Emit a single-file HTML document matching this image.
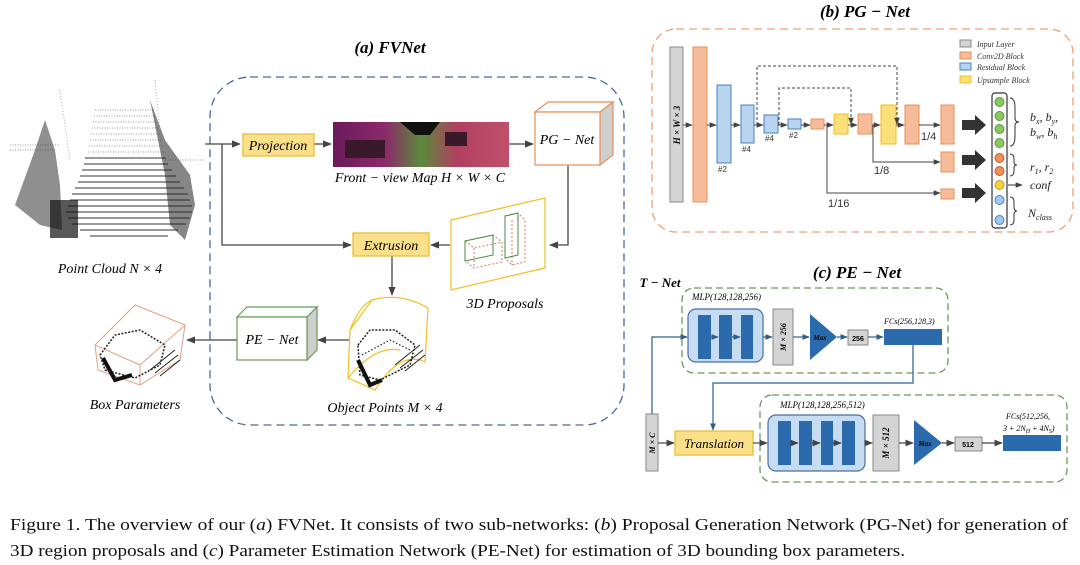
<!DOCTYPE html>
<html><head><meta charset="utf-8">
<style>
html,body{margin:0;padding:0;background:#fff;}
svg{display:block;}
.it{font-family:"Liberation Serif",serif;font-style:italic;}
.b{font-weight:bold;}
</style></head>
<body>
<svg width="1080" height="565" viewBox="0 0 1080 565" xmlns="http://www.w3.org/2000/svg">
<defs>
<marker id="ar" viewBox="0 0 10 10" refX="9" refY="5" markerWidth="7" markerHeight="7" orient="auto-start-reverse"><path d="M0,1 L10,5 L0,9 z" fill="#444"/></marker>
<marker id="arb" viewBox="0 0 10 10" refX="9" refY="5" markerWidth="6" markerHeight="6" orient="auto"><path d="M0,1 L10,5 L0,9 z" fill="#2e5f8a"/></marker>
<linearGradient id="fv" x1="0" x2="1" y1="0" y2="0">
<stop offset="0" stop-color="#6a1a5a"/><stop offset="0.3" stop-color="#8c2a6a"/><stop offset="0.5" stop-color="#5a8a3a"/><stop offset="0.7" stop-color="#b04060"/><stop offset="1" stop-color="#c0506a"/></linearGradient>
</defs>

<!-- (a) FVNet -->
<text x="390" y="53" text-anchor="middle" class="it b" font-size="17">(a) FVNet</text>
<rect x="210" y="77" width="414" height="348" rx="40" fill="none" stroke="#4a6a9a" stroke-width="1.3" stroke-dasharray="8,5"/>

<!-- point cloud -->
<g>
<g stroke="#777" stroke-width="0.8" stroke-dasharray="1,1.5">
<line x1="95" y1="110" x2="155" y2="110"/><line x1="94" y1="116" x2="156" y2="116"/><line x1="93" y1="122" x2="158" y2="122"/><line x1="92" y1="128" x2="159" y2="128"/><line x1="91" y1="134" x2="160" y2="134"/><line x1="90" y1="140" x2="162" y2="140"/><line x1="89" y1="146" x2="163" y2="146"/><line x1="88" y1="152" x2="164" y2="152"/>
<line x1="10" y1="145" x2="60" y2="145"/><line x1="10" y1="150" x2="55" y2="150"/><line x1="165" y1="160" x2="205" y2="160"/>
</g>
<g stroke="#333" stroke-width="1">
<line x1="85" y1="158" x2="166" y2="158"/><line x1="84" y1="164" x2="168" y2="164"/><line x1="82" y1="170" x2="172" y2="170"/><line x1="80" y1="176" x2="176" y2="176"/><line x1="78" y1="182" x2="180" y2="182"/><line x1="75" y1="188" x2="184" y2="188"/><line x1="72" y1="194" x2="188" y2="194"/><line x1="70" y1="200" x2="190" y2="200"/><line x1="68" y1="206" x2="192" y2="206"/><line x1="66" y1="212" x2="192" y2="212"/><line x1="68" y1="218" x2="190" y2="218"/><line x1="72" y1="224" x2="186" y2="224"/><line x1="80" y1="230" x2="178" y2="230"/><line x1="90" y1="236" x2="168" y2="236"/>
</g>
<path d="M15,205 L35,150 L45,120 L55,150 L60,185 L62,230 L40,225 Z" fill="#333" opacity="0.55"/>
<path d="M150,100 L165,140 L190,175 L195,205 L185,240 L170,225 L165,175 Z" fill="#222" opacity="0.55"/>
<path d="M60,90 L70,160 M155,80 L160,130" stroke="#aaa" stroke-dasharray="1,2"/>
<rect x="50" y="200" width="28" height="38" fill="#111" opacity="0.7"/>
</g>
<text x="110" y="273" text-anchor="middle" class="it" font-size="14">Point Cloud N × 4</text>

<!-- arrows main -->
<g stroke="#444" stroke-width="1.3" fill="none">
<line x1="205" y1="144" x2="240" y2="144" marker-end="url(#ar)"/>
<polyline points="222,144 222,245 351,245" marker-end="url(#ar)"/>
<line x1="313" y1="144" x2="331" y2="144" marker-end="url(#ar)"/>
<line x1="509" y1="144" x2="533" y2="144" marker-end="url(#ar)"/>
<polyline points="568,165 568,245 550,245" marker-end="url(#ar)"/>
<line x1="450" y1="245" x2="431" y2="245" marker-end="url(#ar)"/>
<line x1="392" y1="256" x2="392" y2="295" marker-end="url(#ar)"/>
<line x1="350" y1="340" x2="318" y2="340" marker-end="url(#ar)"/>
<line x1="237" y1="340" x2="187" y2="340" marker-end="url(#ar)"/>
</g>
<rect x="243" y="134" width="71" height="22" fill="#fbe08a" stroke="#e8b830" stroke-width="1.2"/>
<text x="278" y="150" text-anchor="middle" class="it" font-size="14">Projection</text>
<rect x="333" y="122" width="176" height="45" fill="url(#fv)"/>
<path d="M400,122 L440,122 L430,135 L415,135 Z" fill="#111"/>
<rect x="345" y="140" width="40" height="18" fill="#3a1a2a"/><rect x="445" y="132" width="22" height="14" fill="#3a1a2a"/>
<text x="420" y="182" text-anchor="middle" class="it" font-size="14">Front − view Map H × W × C</text>
<!-- PG-Net box -->
<polygon points="535,112 548,102 613,102 600,112" fill="#fff" stroke="#e8905a" stroke-width="1.2"/>
<polygon points="600,112 613,102 613,155 600,165" fill="#cfcfcf" stroke="#e8905a" stroke-width="1.2"/>
<rect x="535" y="112" width="65" height="53" fill="#fff" stroke="#e8905a" stroke-width="1.2"/>
<text x="567" y="144" text-anchor="middle" class="it" font-size="14">PG − Net</text>
<!-- proposals -->
<polygon points="451,220 545,198 545,268 451,290" fill="#fff" stroke="#f0c020" stroke-width="1.2"/>
<g fill="none" stroke-width="1"><path d="M465,241 L493,235 L502,242 L502,262 L474,268 L465,261 Z M465,241 L474,248 L502,242 M474,248 L474,268" stroke="#d08060" stroke-dasharray="2,2"/>
<path d="M465,241 L493,235 L493,255 L465,261 Z" stroke="#4a8a4a"/>
<path d="M505,216 L518,213 L525,220 L525,262 L512,265 L505,258 Z M512,220 L512,265" stroke="#d08060" stroke-dasharray="2,2"/>
<path d="M505,216 L518,213 L518,255 L505,258 Z" stroke="#4a8a4a"/></g>
<text x="505" y="308" text-anchor="middle" class="it" font-size="14">3D Proposals</text>
<rect x="353" y="233" width="76" height="23" fill="#fbe08a" stroke="#e8b830" stroke-width="1.2"/>
<text x="391" y="250" text-anchor="middle" class="it" font-size="14">Extrusion</text>
<!-- object points -->
<g fill="none" stroke="#f0c020" stroke-width="1.2">
<path d="M372,300 Q400,292 428,308 L425,362 Q400,350 375,390 L348,378 L350,330 Z"/>
<path d="M350,330 Q360,305 372,300 M348,378 Q375,345 400,350"/>
</g>
<g stroke="#222" fill="none">
<path d="M358,345 L370,330 L395,330 L415,345 L410,365 L380,380 L360,375 Z" stroke-dasharray="2,1.5" stroke-width="1.5"/>
<path d="M362,355 L390,340 L410,350" stroke-dasharray="1.5,2" stroke-width="1.2"/>
<path d="M395,365 L420,345 M400,368 L423,350 M405,371 L425,355" stroke-width="1"/>
<path d="M358,360 L370,385 L382,380" stroke="#111" stroke-width="4"/>
</g>
<text x="385" y="412" text-anchor="middle" class="it" font-size="14">Object Points M × 4</text>
<!-- PE-Net box -->
<polygon points="237,317 247,307 317,307 307,317" fill="#fff" stroke="#6a9a5a" stroke-width="1.2"/>
<polygon points="307,317 317,307 317,350 307,360" fill="#cfcfcf" stroke="#6a9a5a" stroke-width="1.2"/>
<rect x="237" y="317" width="70" height="43" fill="#fff" stroke="#6a9a5a" stroke-width="1.2"/>
<text x="272" y="344" text-anchor="middle" class="it" font-size="14">PE − Net</text>
<!-- box params -->
<g fill="none" stroke="#e8a080" stroke-width="1"><path d="M95,345 L135,305 L185,325 L180,360 L140,385 L98,370 Z M95,345 L140,365 L185,325 M140,365 L140,385"/></g>
<g stroke="#222" fill="none">
<path d="M100,355 L115,335 L140,330 L165,345 L160,365 L135,378 L105,370 Z" stroke-dasharray="2,1.5" stroke-width="1.5"/>
<path d="M150,370 L175,350 M155,373 L178,355 M160,376 L180,360" stroke-width="1"/>
<path d="M103,358 L115,380 L132,375" stroke="#111" stroke-width="4"/>
</g>
<text x="135" y="409" text-anchor="middle" class="it" font-size="14">Box Parameters</text>

<!-- (b) PG-Net -->
<text x="865" y="17" text-anchor="middle" class="it b" font-size="17">(b) PG − Net</text>
<rect x="652" y="29" width="421" height="203" rx="24" fill="none" stroke="#f0a070" stroke-width="1.3" stroke-dasharray="8,5"/>
<rect x="670" y="47" width="13" height="155" fill="#d4d4d4" stroke="#888"/>
<text transform="translate(680,125) rotate(-90)" text-anchor="middle" class="it b" font-size="9">H × W × 3</text>
<rect x="693" y="47" width="14" height="155" fill="#f6bb98" stroke="#e8905a"/>
<g fill="#b8d4ee" stroke="#4a82c0">
<rect x="717" y="85" width="14" height="78"/><rect x="741" y="105" width="13" height="38"/><rect x="764" y="115" width="14" height="18"/><rect x="788" y="119" width="13" height="10"/></g>
<g fill="#f6bb98" stroke="#e8905a">
<rect x="811" y="119" width="13" height="10"/><rect x="858" y="114" width="14" height="20"/><rect x="905" y="105" width="14" height="39"/><rect x="941" y="105" width="13" height="39"/><rect x="941" y="152" width="13" height="20"/><rect x="941" y="189" width="13" height="10"/></g>
<g fill="#fbe07a" stroke="#f0c020"><rect x="834" y="114" width="14" height="20"/><rect x="881" y="105" width="15" height="39"/></g>
<g font-family="Liberation Sans,sans-serif" font-size="8" fill="#333">
<text x="718" y="172">#2</text><text x="742" y="152">#4</text><text x="765" y="141">#4</text><text x="789" y="138">#2</text></g>
<g stroke="#444" stroke-width="1" fill="none">
<line x1="683" y1="125" x2="692" y2="125" marker-end="url(#ar)"/>
<line x1="707" y1="125" x2="716" y2="125" marker-end="url(#ar)"/>
<line x1="731" y1="125" x2="740" y2="125" marker-end="url(#ar)"/>
<line x1="754" y1="125" x2="763" y2="125" marker-end="url(#ar)"/>
<line x1="778" y1="125" x2="787" y2="125" marker-end="url(#ar)"/>
<line x1="801" y1="125" x2="810" y2="125" marker-end="url(#ar)"/>
<line x1="824" y1="125" x2="833" y2="125" marker-end="url(#ar)"/>
<line x1="848" y1="125" x2="857" y2="125" marker-end="url(#ar)"/>
<line x1="872" y1="125" x2="880" y2="125" marker-end="url(#ar)"/>
<line x1="896" y1="125" x2="904" y2="125" marker-end="url(#ar)"/>
<line x1="919" y1="125" x2="940" y2="125" marker-end="url(#ar)"/>
<polyline points="873,125 873,162 940,162" marker-end="url(#ar)"/>
<polyline points="827,125 827,193 940,193" marker-end="url(#ar)"/>
<polyline points="757,125 757,66 897,66 897,124" stroke-dasharray="3,2" marker-end="url(#ar)"/>
<polyline points="779,125 779,88 851,88 851,124" stroke-dasharray="3,2" marker-end="url(#ar)"/>
</g>
<g font-family="Liberation Sans,sans-serif" font-size="11" fill="#333"><text x="921" y="140">1/4</text><text x="874" y="174">1/8</text><text x="828" y="207">1/16</text></g>
<g fill="#333"><polygon points="962,120 975,120 975,115 986,125 975,135 975,130 962,130"/><polygon points="962,155 975,155 975,150 986,160 975,170 975,165 962,165"/><polygon points="962,188 975,188 975,183 986,193 975,203 975,198 962,198"/></g>
<rect x="992" y="93" width="15" height="135" rx="3" fill="#fff" stroke="#333" stroke-width="1.2"/>
<g stroke-width="1"><circle cx="999.5" cy="102" r="4.5" fill="#8cc860" stroke="#5a9a3a"/><circle cx="999.5" cy="116" r="4.5" fill="#8cc860" stroke="#5a9a3a"/><circle cx="999.5" cy="129" r="4.5" fill="#8cc860" stroke="#5a9a3a"/><circle cx="999.5" cy="143" r="4.5" fill="#8cc860" stroke="#5a9a3a"/>
<circle cx="999.5" cy="158" r="4.5" fill="#f0905a" stroke="#c06030"/><circle cx="999.5" cy="171" r="4.5" fill="#f0905a" stroke="#c06030"/><circle cx="999.5" cy="185" r="4.5" fill="#f8d040" stroke="#c0a020"/><circle cx="999.5" cy="200" r="4.5" fill="#a0c8f0" stroke="#4a82c0"/><circle cx="999.5" cy="220" r="4.5" fill="#a0c8f0" stroke="#4a82c0"/></g>
<g stroke="#333" fill="none" stroke-width="1"><path d="M1010,98 q5,0 5,10 v10 q0,4 4,4 q-4,0 -4,4 v10 q0,10 -5,10"/><path d="M1010,154 q4,0 4,5 v3 q0,3 3,3 q-3,0 -3,3 v3 q0,5 -4,5"/><path d="M1010,197 q4,0 4,5 v5 q0,4 3,4 q-3,0 -3,4 v5 q0,5 -4,5"/><line x1="1008" y1="185" x2="1022" y2="185" marker-end="url(#ar)"/></g>
<g class="it" font-size="12" fill="#222"><text x="1030" y="121">b<tspan font-size="8" dy="3">x</tspan><tspan dy="-3">, b</tspan><tspan font-size="8" dy="3">y</tspan><tspan dy="-3">,</tspan></text><text x="1030" y="136">b<tspan font-size="8" dy="3">w</tspan><tspan dy="-3">, b</tspan><tspan font-size="8" dy="3">h</tspan></text>
<text x="1030" y="171">r<tspan font-size="8" dy="3">1</tspan><tspan dy="-3">, r</tspan><tspan font-size="8" dy="3">2</tspan></text><text x="1030" y="189">conf</text><text x="1028" y="217">N<tspan font-size="8" dy="3">class</tspan></text></g>
<g stroke-width="1"><rect x="960" y="40" width="11" height="7" fill="#d4d4d4" stroke="#888"/><rect x="960" y="52" width="11" height="7" fill="#f6bb98" stroke="#e8905a"/><rect x="960" y="63" width="11" height="7" fill="#b8d4ee" stroke="#4a82c0"/><rect x="960" y="76" width="11" height="7" fill="#fbe07a" stroke="#f0c020"/></g>
<g class="it" font-size="8" fill="#333"><text x="977" y="47">Input Layer</text><text x="977" y="59">Conv2D Block</text><text x="977" y="70">Residual Block</text><text x="977" y="83">Upsample Block</text></g>

<!-- (c) PE-Net -->
<text x="857" y="278" text-anchor="middle" class="it b" font-size="17">(c) PE − Net</text>
<text x="660" y="287" text-anchor="middle" class="it b" font-size="13">T − Net</text>
<rect x="682" y="288" width="266" height="85" rx="12" fill="none" stroke="#6a9a5a" stroke-width="1.3" stroke-dasharray="7,4"/>
<rect x="760" y="395" width="307" height="87" rx="12" fill="none" stroke="#6a9a5a" stroke-width="1.3" stroke-dasharray="7,4"/>
<text x="692" y="300" class="it" font-size="9">MLP(128,128,256)</text>
<text x="780" y="408" class="it" font-size="9">MLP(128,128,256,512)</text>
<rect x="688" y="309" width="75" height="53" rx="8" fill="#c6dcf2" stroke="#4a6ea0" stroke-width="1.2"/>
<g fill="#2b6aad"><rect x="698" y="315" width="13" height="44"/><rect x="719" y="315" width="13" height="44"/><rect x="741" y="315" width="12" height="44"/></g>
<rect x="768" y="415" width="97" height="56" rx="8" fill="#c6dcf2" stroke="#4a6ea0" stroke-width="1.2"/>
<g fill="#2b6aad"><rect x="778" y="421" width="13" height="44"/><rect x="799" y="421" width="13" height="44"/><rect x="821" y="421" width="12" height="44"/><rect x="842" y="421" width="13" height="44"/></g>
<rect x="773" y="309" width="20" height="56" fill="#d4d4d4" stroke="#888"/>
<text transform="translate(786,337) rotate(-90)" text-anchor="middle" class="it b" font-size="8">M × 256</text>
<rect x="873" y="415" width="26" height="56" fill="#d4d4d4" stroke="#888"/>
<text transform="translate(889,443) rotate(-90)" text-anchor="middle" class="it b" font-size="9">M × 512</text>
<rect x="646" y="414" width="12" height="57" fill="#d4d4d4" stroke="#888"/>
<text transform="translate(655,443) rotate(-90)" text-anchor="middle" class="it b" font-size="8">M × C</text>
<polygon points="810,314 837,337 810,360" fill="#2b6aad"/>
<text x="820" y="340" text-anchor="middle" class="it b" font-size="7">Max</text>
<polygon points="914,420 942,443 914,465" fill="#2b6aad"/>
<text x="925" y="446" text-anchor="middle" class="it b" font-size="7">Max</text>
<rect x="848" y="330" width="20" height="15" fill="#d4d4d4" stroke="#888"/>
<text x="858" y="341" text-anchor="middle" font-family="Liberation Sans,sans-serif" font-weight="bold" font-size="7">256</text>
<rect x="955" y="437" width="27" height="14" fill="#d4d4d4" stroke="#888"/>
<text x="968" y="447" text-anchor="middle" font-family="Liberation Sans,sans-serif" font-weight="bold" font-size="7">512</text>
<rect x="884" y="329" width="58" height="16" fill="#2b6aad"/>
<text x="884" y="324" class="it" font-size="8">FCs(256,128,3)</text>
<rect x="1003" y="435" width="58" height="16" fill="#2b6aad"/>
<text x="1006" y="419" class="it" font-size="8">FCs(512,256,</text>
<text x="1003" y="431" class="it" font-size="8">3 + 2N<tspan font-size="6" dy="2">H</tspan><tspan dy="-2"> + 4N</tspan><tspan font-size="6" dy="2">S</tspan><tspan dy="-2">)</tspan></text>
<rect x="675" y="431" width="78" height="24" fill="#fbe08a" stroke="#e8b830" stroke-width="1.2"/>
<text x="714" y="448" text-anchor="middle" class="it" font-size="13">Translation</text>
<g stroke="#2e5f8a" stroke-width="1.2" fill="none">
<polyline points="652,414 652,337 687,337" marker-end="url(#arb)"/>
<polyline points="913,345 913,383 713,383 713,430" marker-end="url(#arb)"/>
<line x1="763" y1="337" x2="772" y2="337" marker-end="url(#arb)"/>
<line x1="793" y1="337" x2="809" y2="337" marker-end="url(#arb)"/>
<line x1="837" y1="337" x2="847" y2="337" marker-end="url(#arb)"/>
<line x1="868" y1="337" x2="883" y2="337" marker-end="url(#arb)"/>
<line x1="711" y1="337" x2="718" y2="337" marker-end="url(#arb)"/>
<line x1="732" y1="337" x2="740" y2="337" marker-end="url(#arb)"/>
</g>
<g stroke="#444" stroke-width="1.2" fill="none">
<line x1="658" y1="443" x2="674" y2="443" marker-end="url(#ar)"/>
<line x1="753" y1="443" x2="767" y2="443" marker-end="url(#ar)"/>
<line x1="791" y1="443" x2="798" y2="443" marker-end="url(#ar)"/>
<line x1="812" y1="443" x2="820" y2="443" marker-end="url(#ar)"/>
<line x1="833" y1="443" x2="841" y2="443" marker-end="url(#ar)"/>
<line x1="865" y1="443" x2="872" y2="443" marker-end="url(#ar)"/>
<line x1="899" y1="443" x2="913" y2="443" marker-end="url(#ar)"/>
<line x1="942" y1="443" x2="954" y2="443" marker-end="url(#ar)"/>
<line x1="982" y1="443" x2="1002" y2="443" marker-end="url(#ar)"/>
</g>

<!-- caption -->
<g font-family="Liberation Serif,serif" font-size="17" fill="#111">
<text x="10" y="530" textLength="1058" lengthAdjust="spacingAndGlyphs">Figure 1. The overview of our (<tspan font-style="italic">a</tspan>) FVNet. It consists of two sub-networks: (<tspan font-style="italic">b</tspan>) Proposal Generation Network (PG-Net) for generation of</text>
<text x="10" y="556" textLength="895" lengthAdjust="spacingAndGlyphs">3D region proposals and (<tspan font-style="italic">c</tspan>) Parameter Estimation Network (PE-Net) for estimation of 3D bounding box parameters.</text>
</g>
</svg>
</body></html>
